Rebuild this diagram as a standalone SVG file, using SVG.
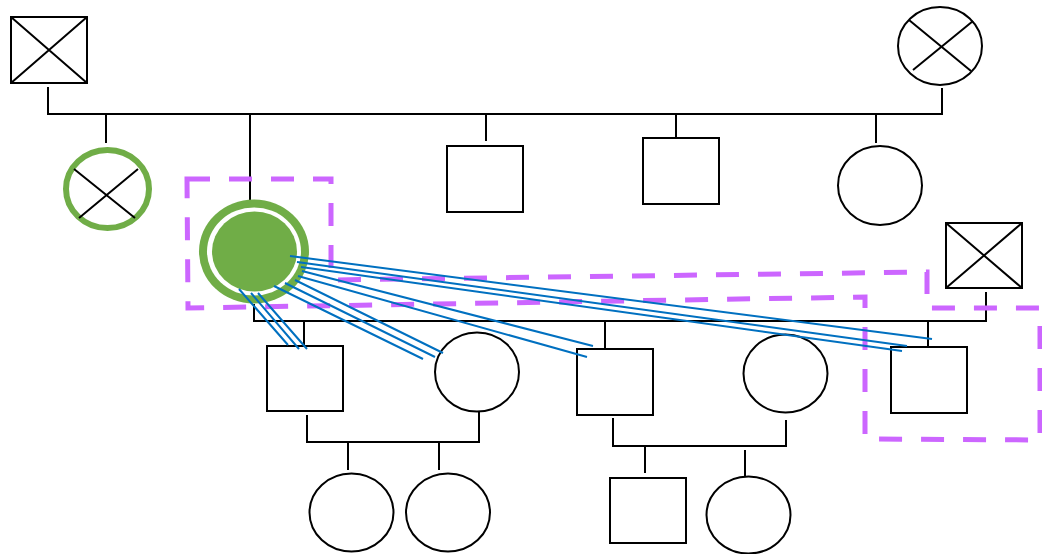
<svg xmlns="http://www.w3.org/2000/svg" width="1042" height="554" viewBox="0 0 1042 554">
<style>
.n{fill:#fff;stroke:#000;stroke-width:2}
.x{stroke:#000;stroke-width:2;fill:none}
.c{stroke:#000;stroke-width:2;fill:none}
.b{stroke:#0070c0;stroke-width:2;fill:none}
.hl{fill:none;stroke:#cc66ff;stroke-width:5;stroke-dasharray:23 19}
</style>
<rect width="1042" height="554" fill="#fff"/>
<g id="connectors">
<path class="c" d="M48,87V114H942V88"/>
<path class="c" d="M106,114V143M250,114V210M486,114V141M676,114V138M876,114V143"/>
<path class="c" d="M254,304V321H986V292"/>
<path class="c" d="M304,321V346M605,321V349M928,321V347"/>
<path class="c" d="M307,415V442H479V412M348,442V470M439,442V470"/>
<path class="c" d="M613,418V446H786V420M645,446V473M745,450V476"/>
</g>
<g id="gp-male"><rect class="n" x="11" y="17" width="76" height="66"/><path class="x" d="M11,17L87,83M87,17L11,83"/></g>
<g id="gp-female"><ellipse class="n" cx="940" cy="46" rx="42" ry="39"/><path class="x" d="M909,20L971,71M973,21L913,70"/></g>
<g id="aunt"><ellipse cx="107.5" cy="189" rx="41.5" ry="39" fill="#fff" stroke="#70ad47" stroke-width="6"/><path class="x" d="M74,169L135,218M138,169L79,218"/></g>
<g id="proband"><ellipse cx="254" cy="251.5" rx="55" ry="52" fill="#70ad47"/><ellipse cx="254" cy="251.5" rx="47" ry="44" fill="#fff"/><ellipse cx="254.5" cy="251.5" rx="42.5" ry="40" fill="#70ad47"/></g>
<g id="uncle1"><rect class="n" x="447" y="146" width="76" height="66"/></g>
<g id="uncle2"><rect class="n" x="643" y="138" width="76" height="66"/></g>
<g id="aunt2"><ellipse class="n" cx="880" cy="185.5" rx="42" ry="39.5"/></g>
<g id="spouse"><rect class="n" x="946" y="223" width="76" height="65"/><path class="x" d="M946,223L1022,288M1022,223L946,288"/></g>
<g id="son1"><rect class="n" x="267" y="346" width="76" height="65"/></g>
<g id="dil1"><ellipse class="n" cx="477" cy="372" rx="42" ry="39.5"/></g>
<g id="gc1"><ellipse class="n" cx="351.5" cy="512.5" rx="42" ry="39"/></g>
<g id="gc2"><ellipse class="n" cx="448" cy="512.5" rx="42" ry="39"/></g>
<g id="son2"><rect class="n" x="577" y="349" width="76" height="66"/></g>
<g id="dil2"><ellipse class="n" cx="785.5" cy="373.5" rx="42" ry="39"/></g>
<g id="gc3"><rect class="n" x="610" y="478" width="76" height="65"/></g>
<g id="gc4"><ellipse class="n" cx="748.5" cy="515" rx="42" ry="38.5"/></g>
<g id="son3"><rect class="n" x="891" y="347" width="76" height="66"/></g>
<g id="highlight"><path class="hl" d="M187,179L331,179L331,280L927,272L927,308L1040,308L1040,440L865,439L865,297L188,308Z"/></g>
<g id="links">
<path class="b" d="M290,256L932,339M297,262L907,346M301,267L902,351"/>
<path class="b" d="M302,271L593,346M298,276L587,357"/>
<path class="b" d="M295,280L443,353M285,283L435,357M274,286L423,359"/>
<path class="b" d="M239,289L288,345M251,293L299,349M258,293L307,349"/>
</g>
</svg>
